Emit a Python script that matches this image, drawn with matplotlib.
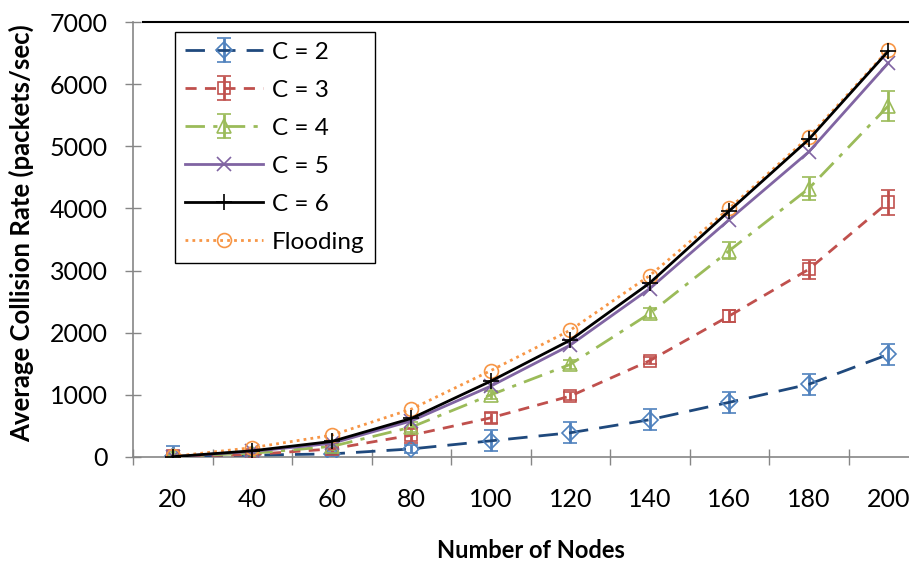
import numpy as np
import matplotlib
matplotlib.use("Agg")
import matplotlib.pyplot as plt
from matplotlib.ticker import FixedLocator

nodes = [20, 40, 60, 80, 100, 120, 140, 160, 180, 200]

c2 = [10, 30, 50, 130, 260, 390, 600, 880, 1170, 1650]
c2_err = [170, 40, 40, 60, 170, 170, 170, 170, 165, 170]
c3 = [10, 40, 130, 350, 630, 980, 1550, 2270, 3020, 4100]
c3_err = [30, 40, 60, 120, 80, 70, 60, 100, 150, 200]
c4 = [10, 60, 170, 480, 1000, 1490, 2310, 3320, 4320, 5650]
c4_err = [20, 40, 60, 80, 60, 70, 80, 140, 180, 240]
c5 = [5, 90, 220, 580, 1140, 1800, 2710, 3820, 4910, 6340]
c6 = [5, 100, 250, 620, 1220, 1880, 2800, 3960, 5110, 6530]
flooding = [10, 150, 350, 770, 1390, 2040, 2920, 4000, 5150, 6550]

legend_order = ["C = 2", "C = 3", "C = 4", "C = 5", "C = 6", "Flooding"]

plt.rcParams["font.family"] = ["Lato", "DejaVu Sans"]
FS = 17

fig = plt.figure(figsize=(9.09, 5.63), dpi=100)
ax = fig.add_axes([133 / 909, 1 - 457 / 563, 795 / 909, 435 / 563])
x = np.arange(len(nodes))

eb = dict(elinewidth=2, capsize=5, capthick=2, markerfacecolor="none",
          markeredgewidth=1.2)

ax.errorbar(x, c2, yerr=c2_err, color="#1F497D", ls=(0, (7, 4)), lw=2,
            marker="D", markersize=8, markeredgecolor="#4F81BD",
            ecolor="#4F81BD", label="C = 2", zorder=3, **eb)
ax.errorbar(x, c3, yerr=c3_err, color="#C0504D", ls=(0, (4, 3)), lw=2,
            marker="s", markersize=9, markeredgecolor="#C0504D",
            ecolor="#C0504D", label="C = 3", zorder=3, **eb)
ax.errorbar(x, c4, yerr=c4_err, color="#9BBB59", ls=(0, (7, 3, 1.5, 3)), lw=2,
            marker="^", markersize=10, markeredgecolor="#9BBB59",
            ecolor="#9BBB59", label="C = 4", zorder=3, **eb)
ax.plot(x, c5, color="#8064A2", ls="-", lw=2, marker="x", markersize=10,
        markeredgecolor="#8064A2", markeredgewidth=1.2, label="C = 5", zorder=4)
ax.plot(x, c6, color="black", ls="-", lw=2, marker="+", markersize=12,
        markeredgecolor="black", markeredgewidth=1.2, label="C = 6", zorder=5)
ax.plot(x, flooding, color="#F79646", ls=(0, (1, 1.5)), lw=2, marker="o",
        markersize=10, markerfacecolor="none", markeredgecolor="#F79646",
        markeredgewidth=1.2, label="Flooding", zorder=4)

ax.set_xlim(-0.5, 9.5)
ax.set_ylim(0, 7000)
ax.set_yticks(range(0, 7001, 1000))
ax.set_xticks(x)
ax.set_xticklabels([str(n) for n in nodes])
ax.xaxis.set_minor_locator(FixedLocator(np.arange(-0.5, 10, 1)))

ax.tick_params(axis="x", which="major", length=0, pad=22, labelsize=18)
ax.tick_params(axis="x", which="minor", length=12, direction="inout",
               color="#868686", width=1)
ax.tick_params(axis="y", length=12, direction="inout", color="#868686",
               width=1, pad=12, labelsize=18)

for s in ["left", "bottom"]:
    ax.spines[s].set_color("#868686")
    ax.spines[s].set_linewidth(1.2)
ax.spines["right"].set_visible(False)
ax.spines["top"].set_color("black")
ax.spines["top"].set_linewidth(1.5)
ax.spines["top"].set_bounds(-0.5 + 10 / 79.5, 9.5)

ax.set_xlabel("Number of Nodes", fontsize=FS, fontweight="bold")
ax.set_ylabel("Average Collision Rate (packets/sec)", fontsize=18.5,
              fontweight="bold")
ax.xaxis.label.set_va("baseline")
ax.xaxis.set_label_coords(0.5, -(558 - 457) / 435)
ax.yaxis.set_label_coords(-(133 - 34) / 795, (457 - 233) / 435)

handles, labels = ax.get_legend_handles_labels()
lookup = dict(zip(labels, handles))
leg = ax.legend([lookup[l] for l in legend_order], legend_order,
                loc="upper left", bbox_to_anchor=(42 / 795, 425 / 435),
                borderaxespad=0, fancybox=False, edgecolor="black",
                fontsize=17.5, handlelength=3.2, handletextpad=0.4,
                labelspacing=0.7, framealpha=1)
leg.get_frame().set_linewidth(1)

fig.savefig("out.png", dpi=100)
